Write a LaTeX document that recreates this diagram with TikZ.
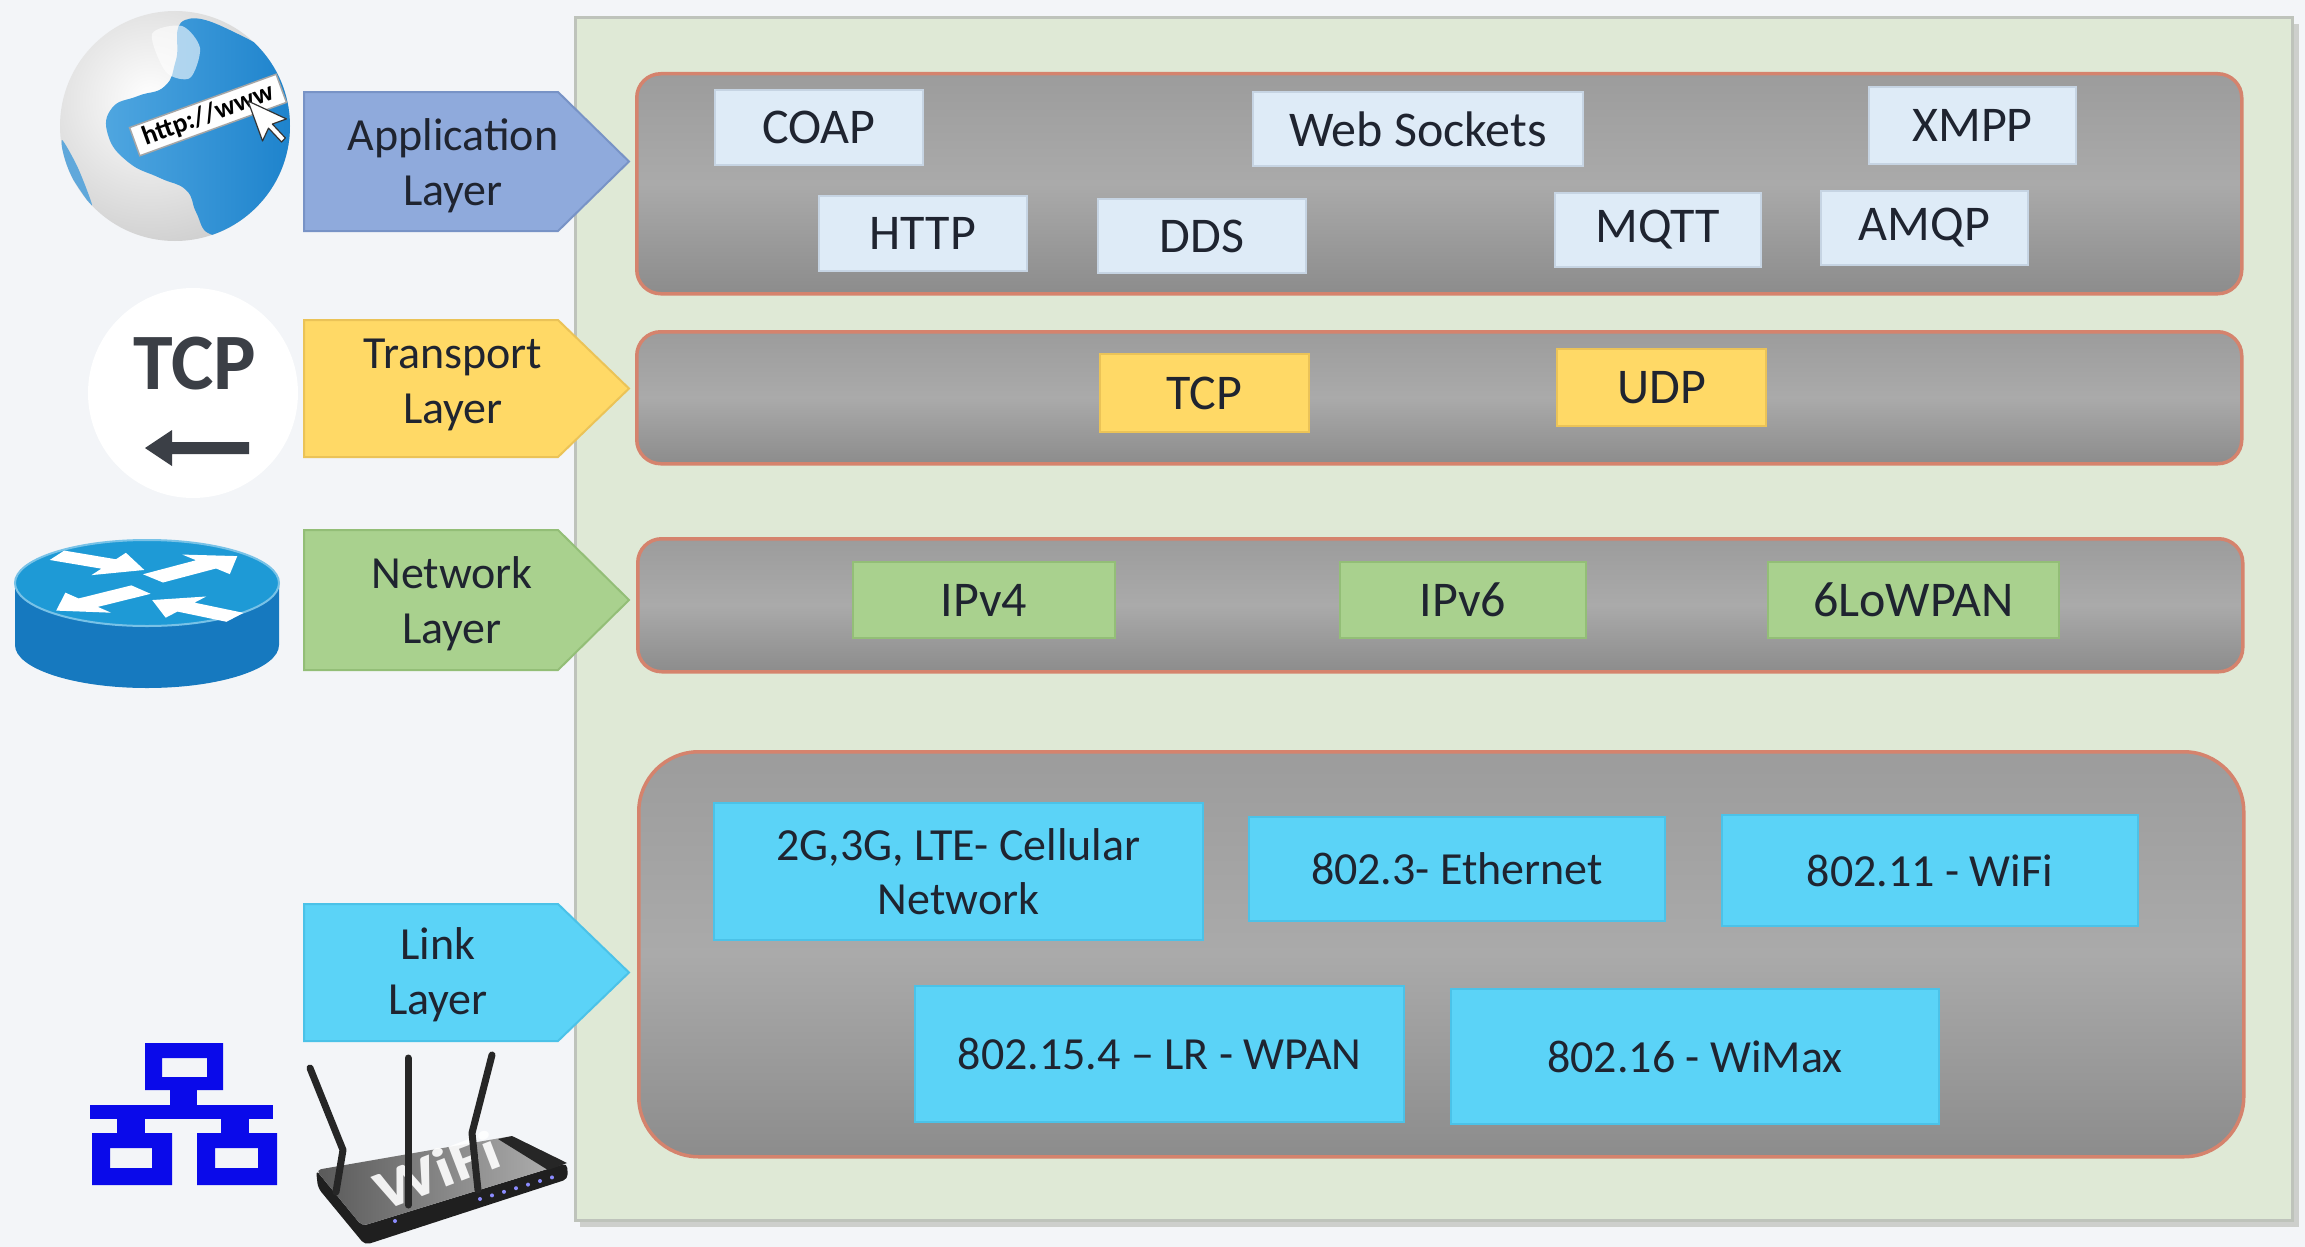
\documentclass[tikz,border=0pt]{standalone}
\usepackage{fontspec}
\setmainfont{Carlito}
\usetikzlibrary{arrows.meta}

\definecolor{bgc}{HTML}{F3F5F8}
\definecolor{panelfill}{HTML}{DFE9D6}
\definecolor{panelline}{HTML}{BEC3BB}
\definecolor{panelshadow}{HTML}{CDCFCC}
\definecolor{layeredge}{HTML}{D5836D}
\definecolor{graytop}{HTML}{9C9C9C}
\definecolor{graymid}{HTML}{AAAAAA}
\definecolor{graybot}{HTML}{8C8C8C}
\definecolor{appfill}{HTML}{DEEBF7}
\definecolor{appline}{HTML}{C6D4E3}
\definecolor{tpfill}{HTML}{FFD966}
\definecolor{tpline}{HTML}{EBC357}
\definecolor{nwfill}{HTML}{A9D18E}
\definecolor{nwline}{HTML}{93BE77}
\definecolor{lkfill}{HTML}{5BD3F7}
\definecolor{lkline}{HTML}{4BC2E8}
\definecolor{apptab}{HTML}{8FAADC}
\definecolor{apptabline}{HTML}{7893C6}
\definecolor{txt}{HTML}{1F2430}
\definecolor{tcpgray}{HTML}{3B3F46}
\definecolor{routertop}{HTML}{1E9AD6}
\definecolor{routerside}{HTML}{1679BF}
\definecolor{netblue}{HTML}{0A0AEA}
\definecolor{globeblue}{HTML}{1C82CC}
\definecolor{globelight}{HTML}{4FA6E0}

\begin{document}
\begin{tikzpicture}[x=1pt,y=-1pt,
  layerbox/.style={draw=layeredge, line width=3.5pt, rounded corners=24pt,
    top color=graytop, bottom color=graybot, middle color=graymid,
    minimum width=1605pt, inner sep=0pt},
  item/.style={inner sep=0pt, line width=1.5pt, text=txt, align=center,
    font=\fontsize{50}{60}\selectfont},
  appitem/.style={item, fill=appfill, draw=appline},
  tpitem/.style={item, fill=tpfill, draw=tpline},
  nwitem/.style={item, fill=nwfill, draw=nwline, minimum height=76pt},
  lkitem/.style={item, fill=lkfill, draw=lkline, font=\fontsize{46}{54}\selectfont},
  tab/.style={line width=2pt},
  tablabel/.style={text=txt, align=center, inner sep=0pt,
    font=\fontsize{46}{55}\selectfont},
  antenna/.style={line width=7pt, line cap=round, line join=round, draw=black!85}
]
\useasboundingbox (0,0) rectangle (2305,1247);
\fill[bgc] (0,0) rectangle (2305,1247);

% ---- green protocol panel ----
\fill[panelshadow] (580,24) rectangle (2299,1227);
\draw[panelline, line width=3pt, fill=panelfill] (575,18) rectangle (2292,1220);

% ---- layer bands ----
\node[layerbox, minimum height=220pt, anchor=north west] (applayer) at (635,72) {};
\node[layerbox, minimum height=132pt, anchor=north west] (tplayer) at (635,330) {};
\node[layerbox, minimum height=133pt, anchor=north west] (nwlayer) at (636,537) {};
\node[layerbox, minimum height=405pt, rounded corners=60pt, anchor=north west] (lklayer) at (637,750) {};

% ---- application protocols ----
\node[appitem, minimum width=208pt, minimum height=75pt] (coap) at (819,127.5) {COAP};
\node[appitem, minimum width=330pt, minimum height=74pt] (websockets) at (1418,129) {Web Sockets};
\node[appitem, minimum width=207pt, minimum height=77pt] (xmpp) at (1972.5,125.5) {XMPP};
\node[appitem, minimum width=208pt, minimum height=75pt] (http) at (923,233.5) {HTTP};
\node[appitem, minimum width=208pt, minimum height=74pt] (dds) at (1202,236) {DDS};
\node[appitem, minimum width=206pt, minimum height=74pt] (mqtt) at (1658,230) {MQTT};
\node[appitem, minimum width=207pt, minimum height=74pt] (amqp) at (1924.5,228) {AMQP};

% ---- transport protocols ----
\node[tpitem, minimum width=209pt, minimum height=78pt] (tcp) at (1204.5,393) {TCP};
\node[tpitem, minimum width=209pt, minimum height=77pt] (udp) at (1661.5,387.5) {UDP};

% ---- network protocols ----
\node[nwitem, minimum width=262pt] (ipv4) at (984,600) {IPv4};
\node[nwitem, minimum width=246pt] (ipv6) at (1463,600) {IPv6};
\node[nwitem, minimum width=291pt] (lowpan) at (1913.5,600) {6LoWPAN};

% ---- link technologies ----
\node[lkitem, minimum width=489pt, minimum height=137pt] (cellular) at (958.5,871.5) {2G,3G, LTE- Cellular\\Network};
\node[lkitem, minimum width=416pt, minimum height=104pt] (ethernet) at (1457,869) {802.3- Ethernet};
\node[lkitem, minimum width=416pt, minimum height=111pt] (wifi) at (1930,870.5) {802.11 - WiFi};
\node[lkitem, minimum width=489pt, minimum height=136pt] (wpan) at (1159.5,1054) {802.15.4 -- LR - WPAN};
\node[lkitem, minimum width=488pt, minimum height=135pt] (wimax) at (1695,1056.5) {802.16 - WiMax};

% ---- layer tabs ----
\draw[tab, fill=apptab, draw=apptabline] (304,92) -- (558,92) -- (629,161.5) -- (558,231) -- (304,231) -- cycle;
\node[tablabel] (applabel) at (453,166) {Application\\Layer};
\draw[tab, fill=tpfill, draw=tpline] (304,320) -- (558,320) -- (629,388.5) -- (558,457) -- (304,457) -- cycle;
\node[tablabel] (tplabel) at (453,385) {Transport\\Layer};
\draw[tab, fill=nwfill, draw=nwline] (304,530) -- (558,530) -- (629,600) -- (558,670) -- (304,670) -- cycle;
\node[tablabel] (nwlabel) at (452,604) {Network\\Layer};
\draw[tab, fill=lkfill, draw=lkline] (304,904) -- (558,904) -- (629,972.5) -- (558,1041) -- (304,1041) -- cycle;
\node[tablabel] (lklabel) at (438,975) {Link\\Layer};

% ---- globe icon ----
\begin{scope}
  \clip (175,126) circle (115);
  \shade[inner color=white, outer color=gray!40!white] (150,100) circle (160);
  \shade[left color=globelight, right color=globeblue]
    plot[smooth cycle, tension=0.8] coordinates {(185,20) (238,34) (276,64) (294,110)
      (289,160) (263,200) (229,229) (208,233) (196,212) (186,190) (160,178)
      (128,162) (108,135) (112,108) (138,96) (165,86) (176,60)};
  \fill[white, opacity=0.6] plot[smooth cycle] coordinates {(152,34) (182,26) (200,48) (190,78) (166,72)};
  \fill[globeblue!70!white] plot[smooth cycle] coordinates {(62,140) (78,168) (92,205) (80,190) (66,166)};
\end{scope}
\node[draw=gray!70, line width=1.5pt, fill=white, rotate=20, minimum width=156pt,
  minimum height=30pt, inner sep=0pt, text=black,
  font=\bfseries\fontsize{27}{27}\selectfont] (url) at (208,115)
  {http://www\hspace{6pt}};
\begin{scope}[shift={(248,101)}, scale=2.5, rotate=20]
  \draw[fill=white, draw=black!80, line width=1.2pt, line join=round]
    (0,0) -- (0,17) -- (4,13) -- (7,20) -- (9,19) -- (6,12) -- (12,12) -- cycle;
\end{scope}

% ---- TCP icon ----
\fill[white] (193,393) circle (105);
\node[text=tcpgray, inner sep=0pt, anchor=base, font=\bfseries\fontsize{80}{80}\selectfont] (tcpicon) at (195,389) {TCP};
\fill[tcpgray] (249,442) -- (172,442) -- (172,430) -- (145,448) -- (172,466) -- (172,454) -- (249,454) -- cycle;

% ---- router icon ----
\fill[routerside] (15,583) -- (15,645) arc[start angle=180, end angle=360, x radius=132pt, y radius=43pt] -- (279,583) -- cycle;
\fill[routertop] (147,583) ellipse[x radius=132pt, y radius=43pt];
\draw[white!40!routertop, line width=2pt] (147,583) ellipse[x radius=132pt, y radius=43pt];
\begin{scope}[shift={(147,583)}, x=1pt, y=1pt, yscale=0.33]
  \foreach \px/\py/\ang/\len in {-90/84/-27/98, 6/14/38.7/108, -6/-20/216.9/106, 88/-104/147.7/98}{
    \fill[white, shift={(\px,\py)}, rotate=\ang]
      (0,-16) -- (\len-40,-16) -- (\len-40,-38) -- (\len,0) -- (\len-40,38) -- (\len-40,16) -- (0,16) -- cycle;
  }
\end{scope}

% ---- network topology icon ----
\fill[netblue, even odd rule] (145,1043) rectangle (223,1090) (162,1058) rectangle (207,1077);
\fill[netblue] (170,1089) rectangle (197,1106);
\fill[netblue] (90,1105) rectangle (273,1119);
\fill[netblue] (117,1118) rectangle (145,1134);
\fill[netblue] (221,1118) rectangle (249,1134);
\fill[netblue, even odd rule] (92,1133) rectangle (172,1185) (110,1148) rectangle (152,1168);
\fill[netblue, even odd rule] (197,1133) rectangle (277,1185) (215,1148) rectangle (258,1168);

% ---- wifi router icon ----
\fill[black!88, rounded corners=5pt] (316,1170) -- (362,1226) -- (567,1163) -- (568,1179) -- (365,1245) -- (318,1188) -- cycle;
\shade[left color=black!65, right color=black!30, rounded corners=5pt] (316,1170) -- (512,1136) -- (567,1163) -- (362,1226) -- cycle;
\fill[black!85] (498,1139) -- (512,1136) -- (567,1163) -- (548,1170) -- cycle;
\node[text=white, opacity=0.9, rotate=21, yscale=0.8, inner sep=0pt,
  font=\bfseries\fontsize{70}{70}\selectfont] (wifitext) at (437,1170) {WiFi};
\foreach \i in {0,...,6}{
  \fill[blue!45!white] ({480+12*\i},{1199-3.6*\i}) circle (2);
}
\fill[blue!45!white] (395,1221) circle (2);
\draw[antenna] (310,1068) -- (343,1150) -- (336,1192);
\draw[antenna] (408,1058) -- (408,1205);
\draw[antenna] (492,1055) -- (472,1133) -- (478,1190);
\end{tikzpicture}
\end{document}
